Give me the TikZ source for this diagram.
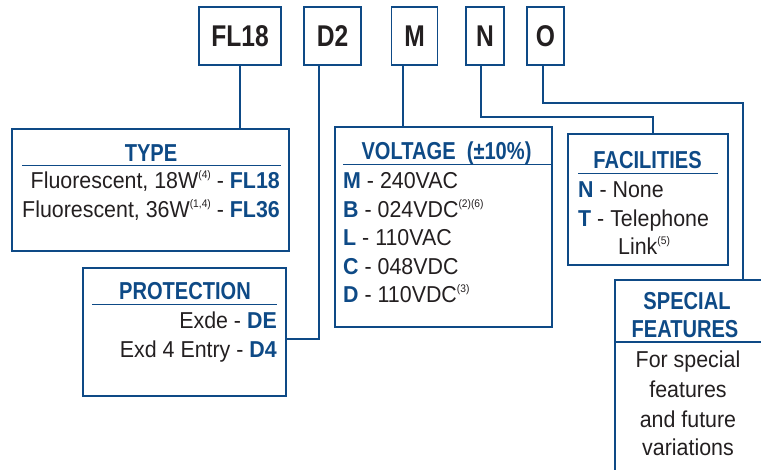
\documentclass[tikz,border=0pt]{standalone}
\usepackage{fontspec}
\setmainfont{Liberation Sans}
\newfontfamily\condfont{Liberation Sans}[FakeStretch=0.82]
\newfontfamily\bodyfont{Liberation Sans}[FakeStretch=0.93]
\usetikzlibrary{calc}
\definecolor{codeblue}{RGB}{14,74,134}
\definecolor{inkgray}{RGB}{35,31,32}
\newcommand{\fnote}[1]{\raisebox{0.8ex}{\fontsize{11}{11}\selectfont(#1)}}
\newcommand{\code}[1]{\textcolor{codeblue}{\bfseries #1}}
\tikzset{
  codebox/.style={rectangle,draw=codeblue,line width=1.2pt,minimum height=58pt,inner sep=0pt,
    text=inkgray,font=\condfont\bfseries\fontsize{30}{30}\selectfont},
  groupbox/.style={rectangle,draw=codeblue,line width=2.2pt,inner sep=0pt},
  grouptitle/.style={anchor=base,inner sep=0pt,text=codeblue,font=\condfont\bfseries\fontsize{24.5}{28}\selectfont},
  bodyline/.style={inner sep=0pt,text=inkgray,font=\bodyfont\fontsize{23}{29}\selectfont},
  rline/.style={bodyline,anchor=base east},
  lline/.style={bodyline,anchor=base west},
  cline/.style={bodyline,anchor=base},
  sepline/.style={draw=codeblue,line width=1pt},
  conn/.style={draw=codeblue,line width=2.2pt}
}
\begin{document}
\begin{tikzpicture}[x=1pt,y=-1pt]
  \useasboundingbox (0,0) rectangle (761,469);
  \clip (0,0) rectangle (761,469);

  % ordering code
  \node[codebox,minimum width=82pt] (fl18) at (240,36) {FL18};
  \node[codebox,minimum width=57pt] (d2) at (332.5,36) {D2};
  \node[codebox,minimum width=46pt] (m) at (414.5,36) {M};
  \node[codebox,minimum width=38pt] (n) at (485,36) {N};
  \node[codebox,minimum width=37pt] (o) at (545.5,36) {O};

  % option groups
  \node[groupbox,minimum width=277pt,minimum height=122pt] (type) at (150.5,190) {};
  \node[groupbox,minimum width=203pt,minimum height=128pt] (prot) at (184.5,332) {};
  \node[groupbox,minimum width=217pt,minimum height=200pt] (volt) at (443.5,227) {};
  \node[groupbox,minimum width=160pt,minimum height=131pt] (fac) at (648,199.5) {};
  \node[groupbox,minimum width=220pt,minimum height=260pt,anchor=north west] (spec) at (614,279) {};

  % type
  \node[grouptitle] (typeT) at (151,161) {TYPE};
  \draw[sepline] (22,165) -- (281,165);
  \node[rline] (type1) at (280,188) {Fluorescent, 18W\fnote{4} - \code{FL18}};
  \node[rline] (type2) at (280,217) {Fluorescent, 36W\fnote{1,4} - \code{FL36}};

  % protection
  \node[grouptitle] (protT) at (185,299) {PROTECTION};
  \draw[sepline] (92,304) -- (277,304);
  \node[rline] (prot1) at (277,328) {Exde - \code{DE}};
  \node[rline] (prot2) at (277,357) {Exd 4 Entry - \code{D4}};

  % voltage
  \node[grouptitle] (voltT) at (446.5,159) {VOLTAGE\ \ (±10\%)};
  \draw[sepline] (343,164) -- (551,164);
  \node[lline] (volt1) at (343,188) {\code{M} - 240VAC};
  \node[lline] (volt2) at (343,217) {\code{B} - 024VDC\fnote{2}\fnote{6}};
  \node[lline] (volt3) at (343,245) {\code{L} - 110VAC};
  \node[lline] (volt4) at (343,274) {\code{C} - 048VDC};
  \node[lline] (volt5) at (343,302) {\code{D} - 110VDC\fnote{3}};

  % facilities
  \node[grouptitle] (facT) at (647.5,168) {FACILITIES};
  \draw[sepline] (578,173) -- (718,173);
  \node[lline] (fac1) at (578,197) {\code{N} - None};
  \node[lline] (fac2) at (578,226) {\code{T} - Telephone};
  \node[lline] (fac3) at (618,254) {Link\fnote{5}};

  % special features
  \node[grouptitle] (specT1) at (687,309) {SPECIAL};
  \node[grouptitle] (specT2) at (685,337) {FEATURES};
  \draw[conn] (spec.west |- 0,342) -- (761,342);
  \node[cline] (spec1) at (688,367) {For special};
  \node[cline] (spec2) at (688,397) {features};
  \node[cline] (spec3) at (688,427) {and future};
  \node[cline] (spec4) at (688,455) {variations};

  % connectors
  \draw[conn] (fl18.south) -- (fl18.south |- type.north);
  \draw[conn] ([xshift=-13.5pt]d2.south) |- ($(prot.east)+(0,7)$);
  \draw[conn] ([xshift=-11.5pt]m.south) -- ([xshift=-11.5pt]m.south |- volt.north);
  \draw[conn] ([xshift=-4pt]n.south) -- ++(0,51) -| ([xshift=5pt]fac.north);
  \draw[conn] ([xshift=-2.5pt]o.south) -- ++(0,37) -| ([xshift=129pt]spec.north west);
\end{tikzpicture}
\end{document}
